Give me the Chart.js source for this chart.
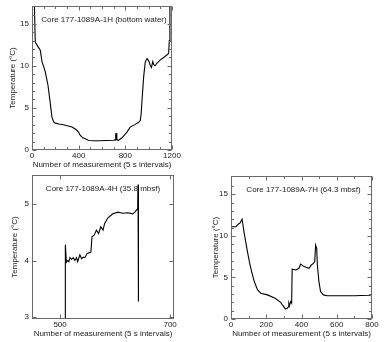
<!DOCTYPE html>
<html>
<head>
<meta charset="utf-8">
<script src="https://cdn.jsdelivr.net/npm/chart.js@4.4.1/dist/chart.umd.min.js"></script>
<style>
  html, body { margin: 0; padding: 0; background: #fff; }
  #wrap { position: relative; width: 384px; height: 342px; }
  #wrap canvas { position: absolute; left: 0; top: 0; }
</style>
</head>
<body>
<div id="wrap">
  <canvas id="core1h" width="384" height="342"></canvas>
  <canvas id="core4h" width="384" height="342"></canvas>
  <canvas id="core7h" width="384" height="342"></canvas>
</div>
<script>
// Core 177-1089A-1H (bottom water)
const meas1H = [20, 28, 37, 50, 71, 86, 100, 114, 125, 137, 157, 171, 185, 200, 230, 271, 310, 343, 380, 400, 414, 435, 457, 485, 530, 585, 640, 700, 712, 716, 719, 722, 727, 740, 757, 771, 790, 814, 842, 885, 914, 928, 935, 943, 957, 971, 986, 1000, 1015, 1024, 1035, 1045, 1055, 1070, 1100, 1140, 1171, 1177, 1182];
const temp1H = [17.6, 12.8, 12.6, 12.3, 11.86, 10.46, 9.9, 9.27, 8.5, 7.69, 5.5, 3.9, 3.35, 3.19, 3.08, 3.0, 2.85, 2.72, 2.4, 2.1, 1.73, 1.45, 1.33, 1.13, 1.1, 1.1, 1.12, 1.15, 1.2, 1.95, 1.3, 2.0, 1.2, 1.15, 1.3, 1.45, 1.75, 2.12, 2.72, 3.04, 3.3, 3.5, 4.2, 5.9, 8.68, 10.46, 10.87, 10.6, 10.0, 9.8, 10.5, 10.1, 10.0, 10.3, 10.7, 11.1, 11.47, 13.0, 17.6];

// Core 177-1089A-4H (35.8 mbsf)
const meas4H = [509.3, 509.6, 511.5, 514, 516, 518, 521, 524, 527, 530, 532, 536, 539, 542, 545, 549, 553, 556, 558, 562, 566, 570, 574, 578, 581, 587, 596, 605, 614, 623, 632, 636, 639, 641, 641.6, 642.4];
const temp4H = [2.5, 4.28, 3.97, 4.0, 3.98, 4.05, 4.02, 4.05, 4.0, 4.05, 3.98, 4.1, 4.03, 4.06, 4.05, 4.12, 4.14, 4.15, 4.42, 4.45, 4.54, 4.48, 4.6, 4.54, 4.66, 4.76, 4.83, 4.86, 4.84, 4.85, 4.83, 4.86, 4.9, 4.92, 5.35, 3.27];

// Core 177-1089A-7H (64.3 mbsf)
const meas7H = [0, 28, 41, 53, 60, 63, 75, 90, 104, 117, 132, 151, 169, 207, 250, 282, 295, 309, 318, 325, 328, 332, 338, 344, 347, 367, 386, 395, 414, 443, 456, 467, 475, 480, 486, 490, 499, 508, 524, 546, 600, 700, 780, 800];
const temp7H = [11.1, 11.1, 11.4, 11.6, 11.9, 12.0, 10.3, 8.5, 6.9, 5.7, 4.5, 3.5, 3.1, 2.9, 2.5, 2.0, 1.6, 1.2, 1.25, 1.45, 1.9, 1.6, 2.1, 1.9, 6.0, 5.9, 6.1, 6.6, 6.3, 6.1, 6.5, 6.7, 6.9, 8.9, 8.5, 6.5, 4.5, 3.3, 2.9, 2.8, 2.8, 2.8, 2.85, 2.9];

// tick values (labelled / minor)
const xLabels1H = [0, 400, 800, 1200];
const xMinor1H = [100, 200, 300, 500, 600, 700, 900, 1000, 1100];
const xLabels4H = [500, 700];
const xMinor4H = [];
const xLabels7H = [0, 200, 400, 600, 800];
const xMinor7H = [100, 300, 500, 700];
const yLabelsTemp = [0, 5, 10, 15];
const yMinorTemp = [1, 2, 3, 4, 6, 7, 8, 9, 11, 12, 13, 14, 16];
const yLabels4H = [3, 4, 5];
const yMinor4H = [];

const xTitle = "Number of measurement (5 s intervals)";
const yTitle = "Temperature (\u00b0C)";
const FONT = "8px 'Liberation Sans', Arial, sans-serif";

// boxed frame with inward ticks on all four sides, labels, titles
const boxedAxes = {
  id: "boxedAxes",
  afterDraw(chart, args, o) {
    const { ctx, chartArea: a } = chart;
    const sx = chart.scales.x, sy = chart.scales.y;
    const L = Math.round(a.left) + 0.5, R = Math.round(a.right) - 0.5;
    const T = Math.round(a.top) + 0.5, B = Math.round(a.bottom) - 0.5;
    ctx.save();
    ctx.strokeStyle = "#6a6a6a";
    ctx.lineWidth = 1;
    ctx.strokeRect(L, T, R - L, B - T);

    const tickX = (vals, len) => vals.forEach(v => {
      const p = Math.round(sx.getPixelForValue(v)) + 0.5;
      ctx.beginPath();
      ctx.moveTo(p, B); ctx.lineTo(p, B - len);
      ctx.moveTo(p, T); ctx.lineTo(p, T + len);
      ctx.stroke();
    });
    const tickY = (vals, len) => vals.forEach(v => {
      const p = Math.round(sy.getPixelForValue(v)) + 0.5;
      ctx.beginPath();
      ctx.moveTo(L, p); ctx.lineTo(L + len, p);
      ctx.moveTo(R, p); ctx.lineTo(R - len, p);
      ctx.stroke();
    });
    tickX(o.xLabels, 4); tickX(o.xMinor, 2.5);
    tickY(o.yLabels, 4); tickY(o.yMinor, 2.5);

    ctx.fillStyle = "#222";
    ctx.font = FONT;
    ctx.textAlign = "center";
    ctx.textBaseline = "middle";
    o.xLabels.forEach(v => ctx.fillText(String(v), sx.getPixelForValue(v), a.bottom + 6));
    ctx.textAlign = "right";
    o.yLabels.forEach(v => ctx.fillText(String(v), a.left - 3, sy.getPixelForValue(v)));

    ctx.textAlign = "center";
    ctx.fillText(xTitle, (a.left + a.right) / 2, a.bottom + 15);
    ctx.fillText(o.title, (a.left + a.right) / 2 + o.titleDx, a.top + 13.5);

    ctx.translate(o.yTitleX, (a.top + a.bottom) / 2);
    ctx.rotate(-Math.PI / 2);
    ctx.fillText(yTitle, 0, 0);
    ctx.restore();
  }
};

function makePanel(id, xs, ys, xr, yr, pad, axes) {
  return new Chart(document.getElementById(id), {
    type: "line",
    data: {
      datasets: [{
        data: xs.map((v, i) => ({ x: v, y: ys[i] })),
        borderColor: "#000",
        borderWidth: 1.1,
        pointRadius: 0,
        tension: 0,
        fill: false
      }]
    },
    options: {
      responsive: false,
      animation: false,
      devicePixelRatio: 1,
      layout: { padding: pad },
      scales: {
        x: { type: "linear", display: false, min: xr[0], max: xr[1] },
        y: { type: "linear", display: false, min: yr[0], max: yr[1] }
      },
      plugins: {
        legend: { display: false },
        tooltip: { enabled: false },
        boxedAxes: axes
      }
    },
    plugins: [boxedAxes]
  });
}

makePanel("core1h", meas1H, temp1H, [0, 1200], [0, 17.1],
  { left: 32, top: 6, right: 212, bottom: 192 },
  { xLabels: xLabels1H, xMinor: xMinor1H, yLabels: yLabelsTemp, yMinor: yMinorTemp,
    title: "Core 177-1089A-1H (bottom water)", titleDx: 2, yTitleX: 13 });

makePanel("core4h", meas4H, temp4H, [449, 707], [2.96, 5.52],
  { left: 32, top: 175, right: 210, bottom: 23 },
  { xLabels: xLabels4H, xMinor: xMinor4H, yLabels: yLabels4H, yMinor: yMinor4H,
    title: "Core 177-1089A-4H (35.8 mbsf)", titleDx: 0, yTitleX: 15 });

makePanel("core7h", meas7H, temp7H, [0, 800], [0, 17.2],
  { left: 231, top: 176, right: 12, bottom: 23 },
  { xLabels: xLabels7H, xMinor: xMinor7H, yLabels: yLabelsTemp, yMinor: yMinorTemp,
    title: "Core 177-1089A-7H (64.3 mbsf)", titleDx: 2, yTitleX: 216 });
</script>
</body>
</html>
